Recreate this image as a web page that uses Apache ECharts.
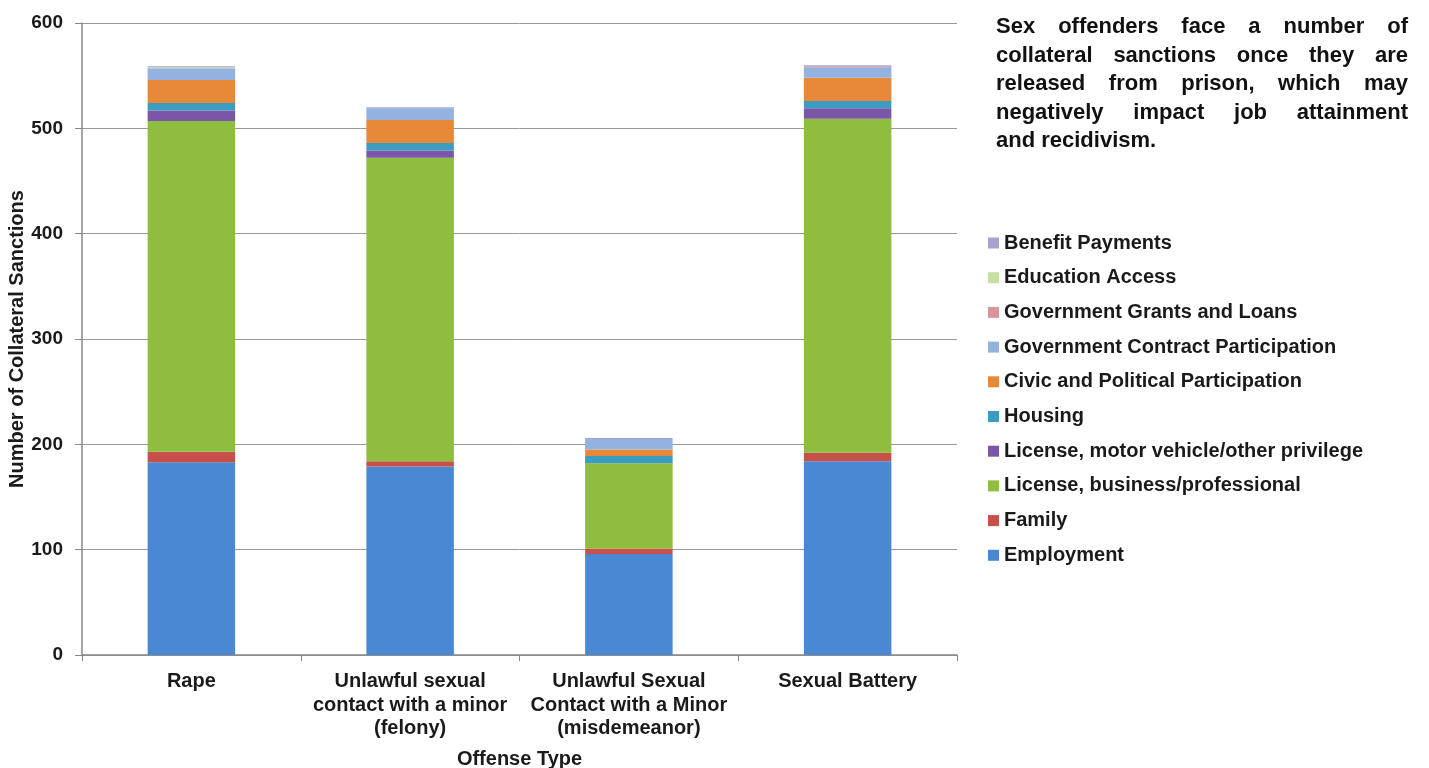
<!DOCTYPE html>
<html><head><meta charset="utf-8">
<script src="https://cdn.jsdelivr.net/npm/echarts@6/dist/echarts.min.js"></script>
<style>html,body{margin:0;padding:0;background:#fff}#c{width:1429px;height:768px}</style>
</head><body><div id="c"></div>
<script>
var categories = ['Rape', 'Unlawful sexual\ncontact with a minor\n(felony)', 'Unlawful Sexual\nContact with a Minor\n(misdemeanor)', 'Sexual Battery'];
var seriesNames = ['Employment', 'Family', 'License, business/professional', 'License, motor vehicle/other privilege', 'Housing', 'Civic and Political Participation', 'Government Contract Participation', 'Government Grants and Loans', 'Education Access', 'Benefit Payments'];
var employment = [183, 179, 96, 184];
var family = [10, 5, 5, 8];
var business = [314, 288, 81, 317];
var motor = [10, 7, 0, 10];
var housing = [7, 7, 7, 7];
var civic = [22, 22, 6, 22];
var govContract = [11, 11, 10, 10];
var grants = [0, 0, 0, 1];
var education = [1, 0, 0, 0];
var benefit = [1, 1, 1, 1];
var yTicks = [0, 100, 200, 300, 400, 500, 600];
var noteLines = ['Sex offenders face a number of', 'collateral sanctions once they are', 'released from prison, which may', 'negatively impact job attainment', 'and recidivism.'];

var values = [employment, family, business, motor, housing, civic, govContract, grants, education, benefit];
var colors = ['#4A88D4', '#C8504A', '#8DBE3F', '#7B55A8', '#3A9CC0', '#E8893A', '#93B2E0', '#D8959A', '#C5E0A0', '#A9A0CF'];
var FONT = '"Liberation Sans", Arial, sans-serif';

var series = seriesNames.map(function (n, i) {
  return { name: n, type: 'bar', stack: 'total', data: values[i], barWidth: '40%',
    itemStyle: { color: colors[i] }, emphasis: { disabled: true } };
});

// justified note text
var NOTE_FONT = 'bold 22px ' + FONT;
var ctx = document.createElement('canvas').getContext('2d');
ctx.font = NOTE_FONT;
var graphics = [];
var left = 996, right = 1408, top0 = 16, lh = 28.6;
noteLines.forEach(function (line, li) {
  var words = line.split(' ');
  var y = top0 + li * lh;
  if (li === noteLines.length - 1) {
    graphics.push({ type: 'text', x: left, y: y, style: { text: line, font: NOTE_FONT, fill: '#111' } });
    return;
  }
  var total = 0;
  words.forEach(function (w) { total += ctx.measureText(w).width; });
  var gap = (right - left - total) / (words.length - 1);
  var x = left;
  words.forEach(function (w) {
    graphics.push({ type: 'text', x: x, y: y, style: { text: w, font: NOTE_FONT, fill: '#111' } });
    x += ctx.measureText(w).width + gap;
  });
});

var chart = echarts.init(document.getElementById('c'));
chart.setOption({
  animation: false,
  backgroundColor: '#fff',
  grid: { left: 82, right: 472, top: 23, bottom: 113, containLabel: false, outerBoundsMode: 'none' },
  legend: {
    orient: 'vertical', left: 983, top: 228,
    data: seriesNames.slice().reverse(),
    icon: 'rect', itemWidth: 11, itemHeight: 11, itemGap: 14.7,
    textStyle: { fontFamily: FONT, fontWeight: 'bold', fontSize: 20, color: '#1a1a1a', lineHeight: 20 },
    selectedMode: false
  },
  xAxis: {
    type: 'category', data: categories,
    name: 'Offense Type', nameLocation: 'middle', nameGap: 94,
    nameTextStyle: { fontFamily: FONT, fontWeight: 'bold', fontSize: 20, color: '#1a1a1a' },
    axisLine: { lineStyle: { color: '#888', width: 1.5 } },
    axisTick: { show: true, length: 6, lineStyle: { color: '#888' } },
    axisLabel: { fontFamily: FONT, fontWeight: 'bold', fontSize: 20, color: '#1a1a1a', lineHeight: 23.5, margin: 15, interval: 0 }
  },
  yAxis: {
    type: 'value', min: 0, max: 600, interval: 100,
    name: 'Number of Collateral Sanctions', nameLocation: 'middle', nameGap: 55, nameMoveOverlap: false,
    nameTextStyle: { fontFamily: FONT, fontWeight: 'bold', fontSize: 20, color: '#1a1a1a' },
    axisLine: { show: true, lineStyle: { color: '#888', width: 1.5 } },
    axisTick: { show: true, length: 7, lineStyle: { color: '#888' } },
    splitLine: { lineStyle: { color: '#999', width: 1 } },
    axisLabel: { fontFamily: FONT, fontWeight: 'bold', fontSize: 19, color: '#1a1a1a', margin: 19,
      formatter: function (v) { return yTicks.indexOf(v) >= 0 ? String(v) : ''; } }
  },
  graphic: graphics,
  series: series
});
</script></body></html>
